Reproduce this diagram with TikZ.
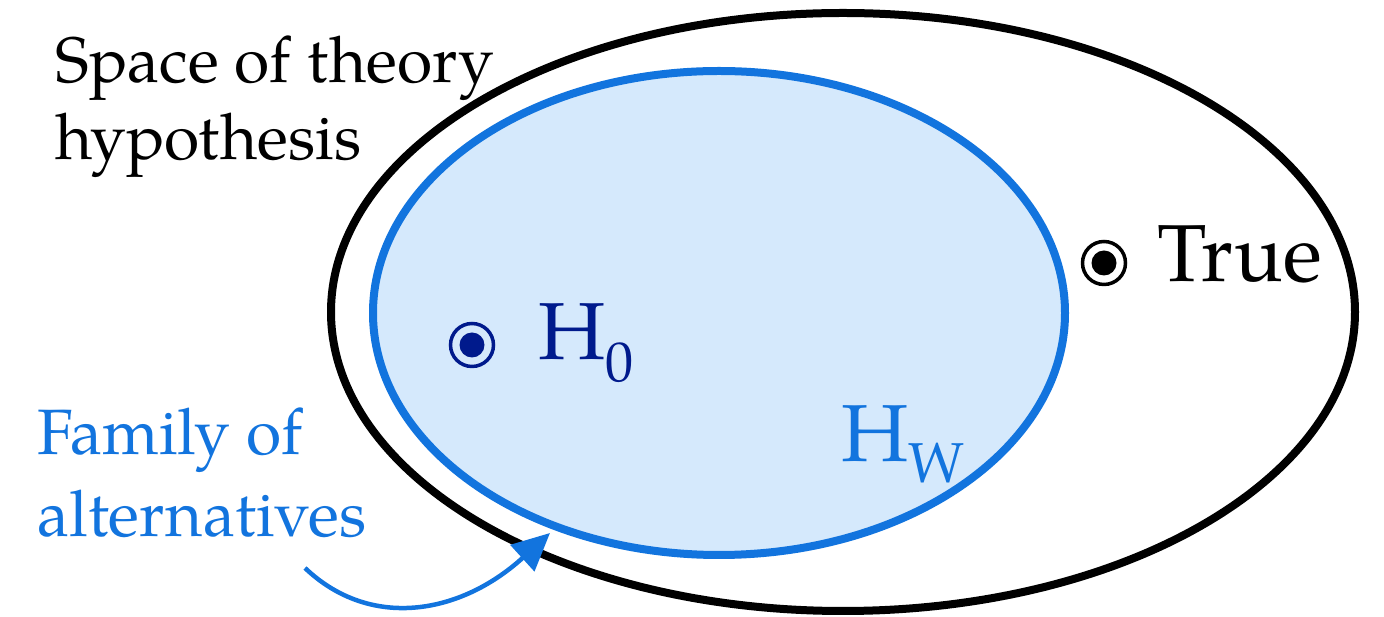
\documentclass[tikz,border=0pt]{standalone}
\usepackage{fontspec}
\setmainfont{TeX Gyre Pagella}
\usetikzlibrary{arrows.meta}
\definecolor{hblue}{RGB}{18,116,222}
\definecolor{hfill}{RGB}{213,233,252}
\definecolor{hnavy}{RGB}{0,26,140}
\newcommand{\mysub}[2]{\raisebox{-#1}{\fontsize{32pt}{38pt}\selectfont #2}}
\tikzset{
  lbl/.style={inner sep=0pt, anchor=base west},
  bigtxt/.style={font=\fontsize{36.5pt}{45pt}\selectfont},
  hugetxt/.style={font=\fontsize{46pt}{55pt}\selectfont},
  ringdot/.style={circle, draw, line width=0.07cm, minimum size=0.86cm, inner sep=0pt},
  coredot/.style={circle, fill, minimum size=0.5cm, inner sep=0pt},
}
\begin{document}
\begin{tikzpicture}[x=0.02cm,y=-0.02cm]
\useasboundingbox (0,0) rectangle (1384,617);
% ellipses
\draw[line width=0.16cm] (843,312) ellipse [x radius=512, y radius=299];
\draw[line width=0.16cm, draw=hblue, fill=hfill] (719,313) ellipse [x radius=346, y radius=242];
% dots
\node[ringdot, draw=hnavy] (h0ring) at (472,345) {};
\node[coredot, fill=hnavy] (h0dot) at (472,345) {};
\node[ringdot, draw=black] (truering) at (1104,263) {};
\node[coredot, fill=black] (truedot) at (1104,263) {};
% labels
\node[lbl, hugetxt] (true) at (1157,282) {True};
\node[lbl, hugetxt, text=hnavy] (h0) at (538,360) {H\mysub{12.5pt}{0}};
\node[lbl, hugetxt, text=hblue] (hw) at (841,462) {H\mysub{11.4pt}{W}};
\node[lbl, bigtxt] (space1) at (55,83) {Space of theory};
\node[lbl, bigtxt] (space2) at (55,160) {hypothesis};
\node[lbl, bigtxt, text=hblue] (fam1) at (37,455) {Family of};
\node[lbl, bigtxt, text=hblue] (fam2) at (37,537) {alternatives};
% arrow
\coordinate (astart) at (305,568);
\coordinate (aend) at (550,533);
\draw[hblue, line width=0.09cm, -{Triangle[length=0.75cm,width=0.7cm]}]
  (astart) .. controls (370,630) and (460,615) .. (aend);
\end{tikzpicture}
\end{document}
